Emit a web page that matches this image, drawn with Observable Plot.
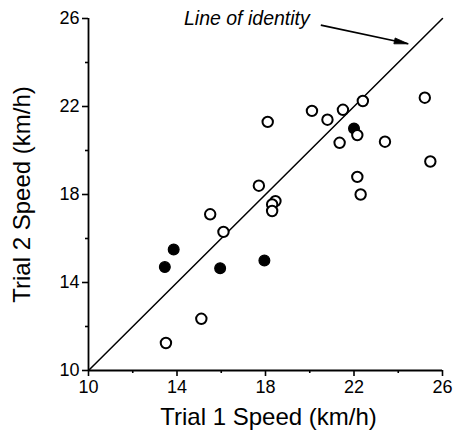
<!DOCTYPE html>
<html>
<head>
<meta charset="utf-8">
<script src="https://cdn.jsdelivr.net/npm/d3@7"></script>
<script src="https://cdn.jsdelivr.net/npm/@observablehq/plot@0.6"></script>
<style>
  html, body { margin: 0; padding: 0; background: white; }
</style>
</head>
<body>
<div id="chart"></div>
<script>
// Open circles (trial 1 speed, trial 2 speed)
const openX = [18.1, 20.1, 20.8, 21.5, 22.4, 25.2, 22.15, 21.35, 23.4, 25.45, 22.15, 22.3, 17.7, 18.45, 18.3, 18.3, 15.5, 16.1, 15.1, 13.5];
const openY = [21.3, 21.8, 21.4, 21.85, 22.25, 22.4, 20.7, 20.35, 20.4, 19.5, 18.8, 18.0, 18.4, 17.7, 17.55, 17.25, 17.1, 16.3, 12.35, 11.25];
// Filled circles
const filledX = [13.45, 13.85, 15.95, 17.95, 22.0];
const filledY = [14.7, 15.5, 14.65, 15.0, 21.0];

// Axes
const majorTicks = [10, 14, 18, 22, 26];
const minorTicks = [12, 16, 20, 24];
const axisDomain = [10, 26];

// Line of identity
const identityX = [10, 26];
const identityY = [10, 26];

// Annotation
const annotationText = ["Line of identity"];
const annotationPos = {x: 20.0, y: 26.0};
const arrowFrom = {x: 20.5, y: 25.7};
const arrowTo = {x: 24.45, y: 24.85};

const xTitle = "Trial 1 Speed (km/h)";
const yTitle = "Trial 2 Speed (km/h)";

const openData = openX.map((x, i) => ({x, y: openY[i]}));
const filledData = filledX.map((x, i) => ({x, y: filledY[i]}));
const identityData = identityX.map((x, i) => ({x, y: identityY[i]}));

const font = "'Liberation Sans', Arial, Helvetica, sans-serif";

// narrow filled arrowhead, tip at origin pointing right
const arrowHead = {
  draw(context) {
    context.moveTo(0, 0);
    context.lineTo(-14, -3);
    context.lineTo(-14, 3);
    context.closePath();
  }
};

const chart = Plot.plot({
  width: 454,
  height: 436,
  marginLeft: 88,
  marginRight: 12,
  marginTop: 18,
  marginBottom: 66,
  x: {domain: axisDomain},
  y: {domain: axisDomain},
  style: {fontFamily: font, fontSize: "18px", background: "white", color: "black"},
  marks: [
    Plot.axisX({ticks: majorTicks, tickSize: 6, tickPadding: 4, strokeWidth: 1.6, fontSize: 18, label: null, tickFormat: d => String(d)}),
    Plot.axisX({ticks: minorTicks, tickSize: 3, strokeWidth: 1.6, label: null, tickFormat: () => ""}),
    Plot.axisY({ticks: majorTicks, tickSize: 6, tickPadding: 3, strokeWidth: 1.6, fontSize: 18, label: null, tickFormat: d => String(d)}),
    Plot.axisY({ticks: minorTicks, tickSize: 3, strokeWidth: 1.6, label: null, tickFormat: () => ""}),
    Plot.ruleX([axisDomain[0]], {stroke: "black", strokeWidth: 1.8}),
    Plot.ruleY([axisDomain[0]], {stroke: "black", strokeWidth: 1.8}),
    Plot.line(identityData, {x: "x", y: "y", stroke: "black", strokeWidth: 1.5}),
    Plot.link([0], {x1: arrowFrom.x, y1: arrowFrom.y, x2: arrowTo.x, y2: arrowTo.y, stroke: "black", strokeWidth: 1.6}),
    Plot.dot([0], {x: arrowTo.x, y: arrowTo.y, symbol: arrowHead, rotate: 12, fill: "black", stroke: "black", strokeWidth: 0.8, r: 5}),
    Plot.text(annotationText, {x: annotationPos.x, y: annotationPos.y, text: d => d, textAnchor: "end", lineAnchor: "middle", fontStyle: "italic", fontSize: 19.5, fill: "black"}),
    Plot.dot(filledData, {x: "x", y: "y", r: 5.4, fill: "black", stroke: "black", strokeWidth: 1.2}),
    Plot.dot(openData, {x: "x", y: "y", r: 5.2, fill: "white", stroke: "black", strokeWidth: 2}),
    Plot.text([xTitle], {frameAnchor: "bottom", textAnchor: "middle", lineAnchor: "middle", dx: 3, dy: 47, text: d => d, fontSize: 24, fill: "black"}),
    Plot.text([yTitle], {frameAnchor: "left", textAnchor: "middle", lineAnchor: "middle", dx: -66, rotate: -90, text: d => d, fontSize: 24, fill: "black"})
  ]
});
document.getElementById("chart").appendChild(chart);
</script>
</body>
</html>
